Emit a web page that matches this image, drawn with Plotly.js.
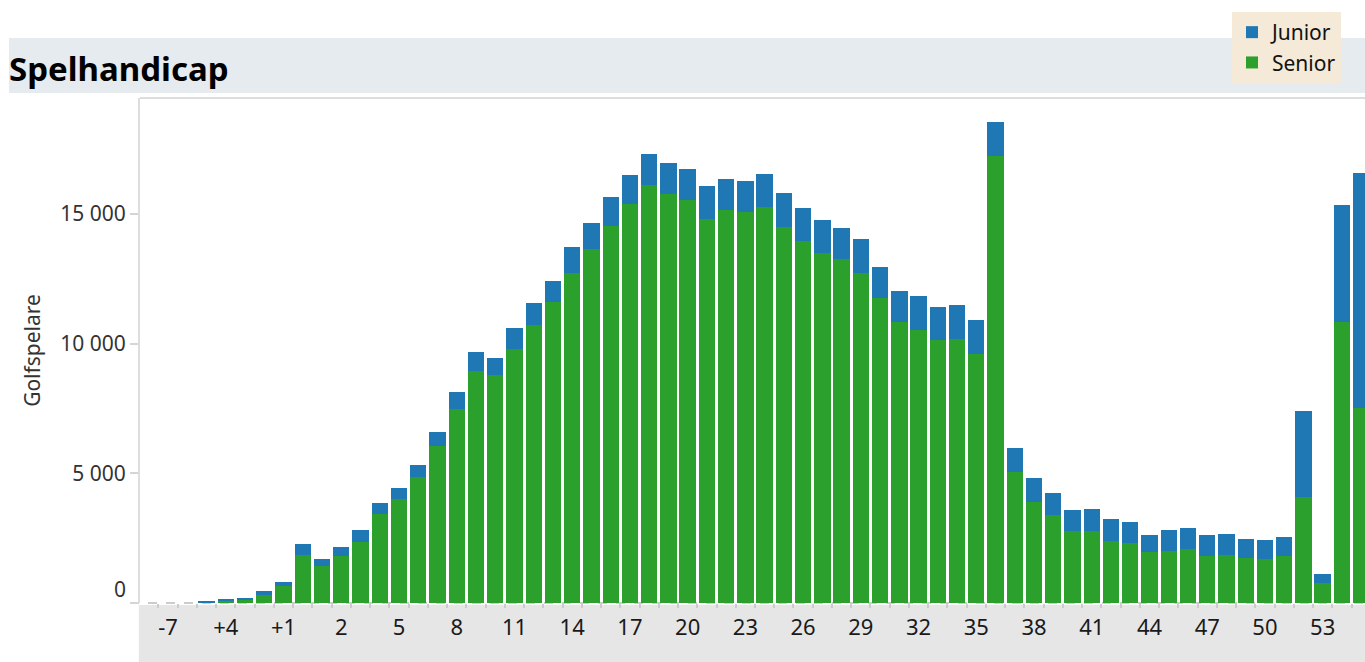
<!DOCTYPE html>
<html>
<head>
<meta charset="utf-8">
<script src="https://cdn.plot.ly/plotly-3.0.1.min.js"></script>
<style>
  html, body { margin: 0; padding: 0; background: #ffffff; }
  #chart { width: 1365px; height: 662px; }
</style>
</head>
<body>
<div id="chart"></div>
<script>
// Handicap categories
const categories = ["-7", "+6", "+5", "+4", "+3", "+2", "+1", "0",
  "1","2","3","4","5","6","7","8","9","10",
  "11","12","13","14","15","16","17","18","19","20",
  "21","22","23","24","25","26","27","28","29","30",
  "31","32","33","34","35","36","37","38","39","40",
  "41","42","43","44","45","46","47","48","49","50",
  "51","52","53","54","55"];

// Number of golfers per category
const seniorValues = [0, 0, 20, 60, 110, 300, 650, 1850,
  1430, 1810, 2360, 3440, 4010, 4860, 6070, 7480, 8940, 8790,
  9790, 10720, 11620, 12720, 13650, 14550, 15390, 16110, 15780, 15550,
  14800, 15160, 15090, 15270, 14500, 13960, 13490, 13260, 12720, 11760,
  10850, 10540, 10150, 10180, 9610, 17250, 5050, 3890, 3390, 2780,
  2780, 2390, 2310, 1970, 2010, 2080, 1810, 1850, 1740, 1700,
  1810, 4090, 770, 10850, 7520];

const juniorValues = [0, 0, 60, 90, 80, 160, 160, 420,
  270, 350, 450, 410, 420, 460, 520, 650, 730, 660,
  810, 850, 800, 1000, 1000, 1100, 1110, 1200, 1180, 1180,
  1270, 1180, 1180, 1270, 1310, 1270, 1270, 1200, 1310, 1200,
  1180, 1300, 1260, 1310, 1300, 1300, 925, 925, 850, 810,
  850, 850, 810, 650, 810, 810, 810, 810, 730, 730,
  730, 3320, 350, 4500, 9060];

// Y-axis ticks
const yTickValues = [0, 5000, 10000, 15000];
const yTickLabels = ["0", "5 000", "10 000", "15 000"];

// X-axis: labels on every third category
const xTickLabels = categories.map((c, i) => (i % 3 === 0 ? c : ""));

const traces = [
  {
    type: "bar",
    name: "Senior",
    x: categories,
    y: seniorValues,
    marker: { color: "#2ca02c", line: { width: 0 } },
    hoverinfo: "x+y+name"
  },
  {
    type: "bar",
    name: "Junior",
    x: categories,
    y: juniorValues,
    marker: { color: "#1f77b4", line: { width: 0 } },
    hoverinfo: "x+y+name"
  }
];

const FONT = "Noto Sans, Open Sans, DejaVu Sans, sans-serif";

const layout = {
  width: 1365,
  height: 662,
  margin: { l: 140, r: 0, t: 98, b: 59, pad: 0 },
  paper_bgcolor: "#ffffff",
  plot_bgcolor: "#ffffff",
  barmode: "stack",
  bargap: 0.15,
  font: { family: FONT, color: "#222222" },
  title: {
    text: "<b>Spelhandicap</b>",
    font: { family: FONT, size: 33, color: "#000000" },
    xref: "container",
    yref: "container",
    x: 9 / 1365,
    xanchor: "left",
    y: 1 - 69 / 662,
    yanchor: "middle"
  },
  showlegend: true,
  legend: {
    x: (1232 - 140) / 1225,
    xanchor: "left",
    y: (603 - 12) / 505,
    yanchor: "top",
    bgcolor: "#f5e9d8",
    borderwidth: 0,
    font: { family: FONT, size: 21, color: "#111111" },
    traceorder: "reversed"
  },
  xaxis: {
    type: "category",
    range: [-1.46, 62.2],
    tickmode: "array",
    tickvals: categories,
    ticktext: xTickLabels,
    tickson: "boundaries",
    tickangle: 0,
    ticks: "outside",
    ticklen: 4,
    tickwidth: 2,
    tickcolor: "#cccccc",
    ticklabelstandoff: 9,
    tickfont: { family: FONT, size: 22, color: "#1a1a1a" },
    showgrid: false,
    showline: false,
    zeroline: false,
    fixedrange: true
  },
  yaxis: {
    range: [0, 19470],
    tickmode: "array",
    tickvals: yTickValues,
    ticktext: yTickLabels.map((t, i) => (yTickValues[i] === 0 ? "" : t)),
    ticks: "outside",
    ticklen: 8,
    tickwidth: 2,
    tickcolor: "#d5d5d5",
    tickfont: { family: FONT, size: 21, color: "#333333" },
    showgrid: false,
    zeroline: false,
    showline: true,
    linecolor: "#dddddd",
    linewidth: 2,
    title: {
      text: "Golfspelare",
      font: { family: FONT, size: 21, color: "#333333" },
      standoff: 14
    },
    fixedrange: true
  },
  annotations: [
    {
      // zero label sits slightly above its tick in the reference
      text: yTickLabels[0], xref: "paper", yref: "y",
      x: -12 / 1225, y: yTickValues[0], xanchor: "right", yanchor: "middle",
      yshift: 14, showarrow: false,
      font: { family: FONT, size: 21, color: "#333333" }
    }
  ],
  shapes: [
    // title band
    {
      type: "rect", xref: "paper", yref: "paper",
      x0: (9 - 140) / 1225, x1: 1.01,
      y0: (603 - 93) / 505, y1: (603 - 38) / 505,
      fillcolor: "#e6ebef", line: { width: 0 }, layer: "below"
    },
    // x-axis band
    {
      type: "rect", xref: "paper", yref: "paper",
      x0: -0.001, x1: 1.01,
      y0: -59 / 505, y1: -2 / 505,
      fillcolor: "#e6e6e6", line: { width: 0 }, layer: "below"
    },
    // top frame line
    {
      type: "line", xref: "paper", yref: "paper",
      x0: 0, x1: 1.01, y0: 1, y1: 1,
      line: { color: "#dddddd", width: 2 }
    },
    // dashed baseline
    {
      type: "line", xref: "paper", yref: "paper",
      x0: -10 / 1225, x1: 1.01, y0: 0, y1: 0,
      line: { color: "#cccccc", width: 2, dash: "dash" }, layer: "below"
    }
  ]
};

Plotly.newPlot("chart", traces, layout, { displayModeBar: false, responsive: false });
</script>
</body>
</html>
